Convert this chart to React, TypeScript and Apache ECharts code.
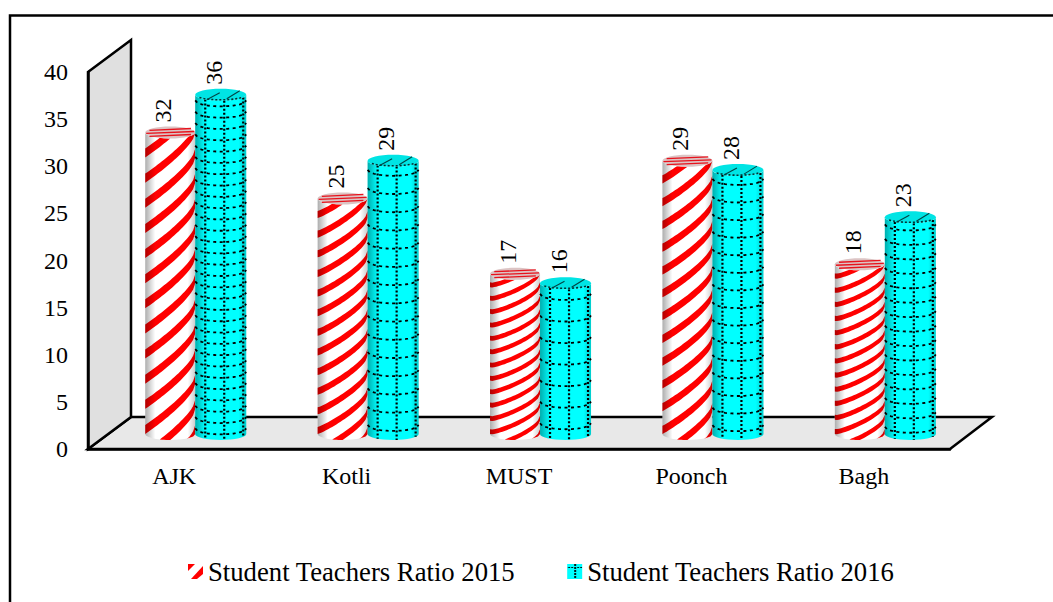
import React, { useEffect, useRef } from "react";
import * as echarts from "echarts";

const categories = ["AJK", "Kotli", "MUST", "Poonch", "Bagh"];
const ratio2015 = [32, 25, 17, 29, 18];
const ratio2016 = [36, 29, 16, 28, 23];
const seriesNames = ["Student Teachers Ratio 2015", "Student Teachers Ratio 2016"];
const gridRows = [30, 15, 7, 15, 15];

const FONT = "Liberation Serif";

function sag(t: number) {
  return Math.sqrt(Math.max(0, 1 - (2 * t - 1) * (2 * t - 1)));
}

function sidePath(x0: number, x1: number, yt: number, yb: number, ry: number) {
  const rx = (x1 - x0) / 2;
  return `M${x0} ${yt}L${x0} ${yb}A${rx} ${ry} 0 0 0 ${x1} ${yb}L${x1} ${yt}A${rx} ${ry} 0 0 1 ${x0} ${yt}Z`;
}

function shade(alphaL: number, alphaR: number) {
  return {
    type: "linear", x: 0, y: 0, x2: 1, y2: 0,
    colorStops: [
      { offset: 0, color: `rgba(0,0,0,${alphaL})` },
      { offset: 0.2, color: "rgba(0,0,0,0)" },
      { offset: 0.85, color: "rgba(0,0,0,0)" },
      { offset: 1, color: `rgba(0,0,0,${alphaR})` },
    ],
  };
}

const SAMPLES = Array.from({ length: 25 }, (_, i) => i / 24);

function cylinder(kind: 0 | 1) {
  return (params: any, api: any) => {
    const idx = api.value(0);
    const val = api.value(1);
    const band = api.size([1, 0])[0];
    const top = api.coord([idx, val]);
    const base = api.coord([idx, 0]);
    const dy = -15;
    const centre = base[0] + band * 0.122;
    const x0 = kind === 0 ? centre - 50 : centre;
    const x1 = kind === 0 ? centre : centre + 51;
    const w = x1 - x0;
    const cx = (x0 + x1) / 2;
    const ry = 6;
    const yt = top[1] + dy;
    const yb = base[1] + dy;
    const path = sidePath(x0, x1, yt, yb, ry);
    const topC = (t: number) => yt + ry * sag(t);
    const botC = (t: number) => yb + ry * sag(t);
    const children: any[] = [];
    const fillBase = kind === 0 ? "#ffffff" : "#00ffff";
    children.push({ type: "path", shape: { pathData: path }, style: { fill: fillBase, stroke: null } });

    if (kind === 0) {
      const P = (yb - yt) / 12;
      const rise = 2 * P;
      for (let k = -4; k < 16; k++) {
        const upper: number[][] = [];
        const lower: number[][] = [];
        SAMPLES.forEach((t) => {
          const x = x0 + w * t;
          const u = 0.6 * t + 0.4 * (Math.acos(1 - 2 * t) / Math.PI);
          const y = yb - k * P - rise * u + ry * sag(t);
          const clamp = (v: number) => Math.min(botC(t), Math.max(topC(t), v));
          upper.push([x, clamp(y - 0.36 * P)]);
          lower.push([x, clamp(y)]);
        });
        children.push({
          type: "polygon",
          shape: { points: upper.concat(lower.reverse()) },
          style: { fill: "#ff0000", stroke: null },
        });
      }
    }

    children.push({ type: "path", shape: { pathData: path }, style: { fill: shade(0.32, 0.2), stroke: null } });

    if (kind === 1) {
      const rows = gridRows[idx];
      const gap = (yb - yt) / rows;
      for (let r = 0; r < rows; r++) {
        const off = r * gap + gap * 0.5;
        children.push({
          type: "polyline",
          shape: { points: SAMPLES.map((t) => [x0 + w * t, yt + off + ry * sag(t)]) },
          style: { fill: null, stroke: "#000", lineWidth: 1.8, lineDash: [3, 3.5] },
        });
      }
      [10, 29, 48].forEach((d) => {
        const t = d / w;
        children.push({
          type: "line",
          shape: { x1: x0 + d, y1: topC(t), x2: x0 + d, y2: botC(t) },
          style: { stroke: "#000", lineWidth: 2.2, lineDash: [2, 2] },
        });
      });
      children.push({
        type: "ellipse",
        shape: { cx, cy: yt, rx: w / 2, ry },
        style: { fill: "#00e4e4", stroke: null },
      });
      children.push({
        type: "polyline",
        shape: { points: SAMPLES.slice(2, 23).map((t) => [x0 + w * t, yt + ry * 0.85 * sag(t)]) },
        style: { fill: null, stroke: "#003333", lineWidth: 1.6, lineDash: [2, 2] },
      });
      [[-14, 5, -1, -2], [6, 4, 19, -4]].forEach((s) => {
        children.push({
          type: "line",
          shape: { x1: cx + s[0], y1: yt + s[1], x2: cx + s[2], y2: yt + s[3] },
          style: { stroke: "#004444", lineWidth: 1.1 },
        });
      });
    } else {
      children.push({
        type: "ellipse",
        shape: { cx, cy: yt, rx: w / 2, ry },
        style: { fill: "#dcc4c4", stroke: null },
      });
      [-3, 0, 3].forEach((d) => {
        const hw = (w / 2) * Math.sqrt(1 - (d * d) / (ry * ry)) * 0.96;
        children.push({
          type: "line",
          shape: { x1: cx - hw, y1: yt + d + 0.9, x2: cx + hw, y2: yt + d - 0.9 },
          style: { stroke: "#e8121c", lineWidth: 1.3 },
        });
      });
    }

    children.push({
      type: "text",
      x: cx - 7,
      y: yt - ry - 16,
      rotation: Math.PI / 2,
      style: {
        text: String(val),
        fill: "#000",
        font: `24px "${FONT}"`,
        align: "center",
        verticalAlign: "middle",
      },
    });

    return { type: "group", silent: true, children };
  };
}

function redSwatch() {
  const c = document.createElement("canvas");
  c.width = 15; c.height = 15;
  const g = c.getContext("2d")!;
  g.fillStyle = "#fff"; g.fillRect(0, 0, 15, 15);
  g.fillStyle = "#ff0000";
  g.beginPath(); g.moveTo(0, 0); g.lineTo(7, 0); g.lineTo(0, 7); g.closePath(); g.fill();
  g.beginPath(); g.moveTo(15, 2); g.lineTo(15, 10); g.lineTo(9, 15); g.lineTo(3, 15); g.closePath(); g.fill();
  return c;
}

function cyanSwatch() {
  const c = document.createElement("canvas");
  c.width = 15; c.height = 15;
  const g = c.getContext("2d")!;
  g.fillStyle = "#00ffff"; g.fillRect(0, 0, 15, 15);
  g.fillStyle = "#001a1a";
  for (let y = 0; y < 15; y += 3) g.fillRect(7, y, 2, 2);
  for (let x = 1; x < 15; x += 3) g.fillRect(x, 3, 2, 1);
  return c;
}

export default function App() {
  const ref = useRef<HTMLDivElement>(null);
  useEffect(() => {
    const chart = echarts.init(ref.current!, null, { renderer: "svg" });
    const line = { stroke: "#000", lineWidth: 2.5 };
    chart.setOption({
      animation: false,
      backgroundColor: "#fff",
      grid: { left: 88, top: 72, width: 862, height: 377, containLabel: false },
      xAxis: {
        type: "category",
        data: categories,
        axisLine: { show: true, lineStyle: { color: "#000", width: 2.5 } },
        axisTick: { show: false },
        axisLabel: { color: "#000", fontFamily: FONT, fontSize: 24, margin: 15 },
      },
      yAxis: {
        type: "value",
        min: 0,
        max: 40,
        interval: 5,
        splitLine: { show: false },
        axisLine: { show: true, lineStyle: { color: "#000", width: 2.5 } },
        axisTick: { show: false },
        axisLabel: { color: "#000", fontFamily: FONT, fontSize: 24, margin: 20 },
      },
      legend: {
        left: 183,
        top: 553,
        itemGap: 52,
        itemWidth: 15,
        itemHeight: 15,
        textStyle: { color: "#000", fontFamily: FONT, fontSize: 26.7, padding: [0, 0, 0, 0] },
        data: [
          { name: seriesNames[0], icon: "rect", itemStyle: { color: { image: redSwatch(), repeat: "repeat" } } },
          { name: seriesNames[1], icon: "rect", itemStyle: { color: { image: cyanSwatch(), repeat: "repeat" } } },
        ],
      },
      graphic: [
        { type: "polyline", z: 0, shape: { points: [[10, 602], [10, 15.5], [1053, 15.5]] }, style: { fill: null, ...line } },
        { type: "polygon", z: 0, shape: { points: [[88, 449], [131, 417], [992, 417], [950, 449]] }, style: { fill: "#e8e8e8", ...line } },
        { type: "polygon", z: 0, shape: { points: [[88, 72], [131, 40], [131, 417], [88, 449]] }, style: { fill: "#e0e0e0", ...line } },
      ],
      series: [
        {
          type: "custom",
          name: seriesNames[0],
          renderItem: cylinder(0),
          data: ratio2015.map((v, i) => [i, v]),
          encode: { x: 0, y: 1 },
          z: 3,
        },
        {
          type: "custom",
          name: seriesNames[1],
          renderItem: cylinder(1),
          data: ratio2016.map((v, i) => [i, v]),
          encode: { x: 0, y: 1 },
          z: 4,
        },
      ],
    });
    return () => chart.dispose();
  }, []);
  return <div ref={ref} style={{ position: "absolute", left: 0, top: 0, width: 1053, height: 602 }} />;
}
